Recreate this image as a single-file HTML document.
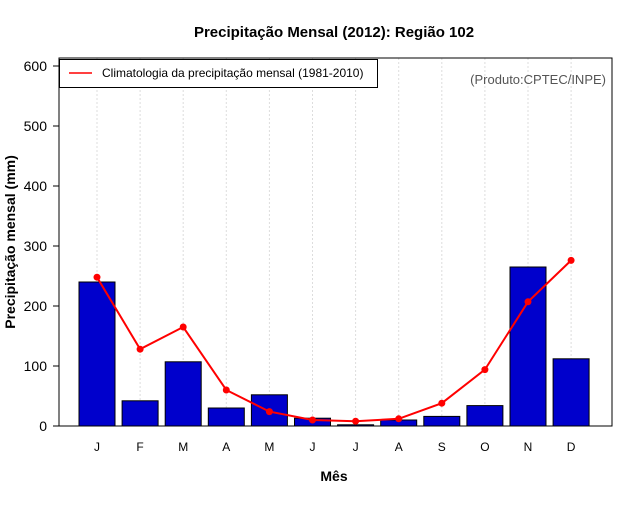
<!DOCTYPE html>
<html><head><meta charset="utf-8"><style>
body{margin:0;background:#fff;}
svg text{font-family:"Liberation Sans",sans-serif;}
</style></head><body>
<svg id="c" width="640" height="500" xmlns="http://www.w3.org/2000/svg">
<rect width="640" height="500" fill="#fff"/>
<text x="334" y="37" text-anchor="middle" font-size="15" font-weight="bold">Precipitação Mensal (2012): Região 102</text>
<text x="334" y="481" text-anchor="middle" font-size="14" font-weight="bold">Mês</text>
<text transform="translate(15,242) rotate(-90)" text-anchor="middle" font-size="14" font-weight="bold">Precipitação mensal (mm)</text>
<g id="grid"></g><g id="bars"></g><g id="line"></g><g id="axes"></g>
<rect x="59" y="58" width="553" height="368" fill="none" stroke="#000" stroke-width="1"/>
<g>
<rect x="59.5" y="59.5" width="318" height="28" fill="#fff" stroke="#000"/>
<line x1="69" y1="73" x2="92" y2="73" stroke="red" stroke-width="1.5"/>
<text x="102" y="77" font-size="12">Climatologia da precipitação mensal (1981-2010)</text>
</g>
<text x="606" y="84" text-anchor="end" font-size="13" fill="#555">(Produto:CPTEC/INPE)</text>
</svg>
<script>
const months=["J","F","M","A","M","J","J","A","S","O","N","D"];
const obs=[240,42,107,30,52,13,2,10,16,34,265,112];
const clim=[248,128,165,60,24,10,8,12,38,94,207,276];
const yTicks=[0,100,200,300,400,500,600];
const NS="http://www.w3.org/2000/svg";
const xs=i=>97+i*43.1;
const ys=v=>426-v*0.6;
function mk(t,a,p){const e=document.createElementNS(NS,t);for(const k in a)e.setAttribute(k,a[k]);p.appendChild(e);return e;}
const grid=document.getElementById('grid'),bars=document.getElementById('bars'),line=document.getElementById('line'),axes=document.getElementById('axes');
months.forEach((m,i)=>{
 const g=mk('line',{x1:xs(i),x2:xs(i),y1:58,y2:426,stroke:'#ddd','stroke-dasharray':'2,2'},grid);
 
 
 const b=mk('rect',{x:xs(i)-18,y:ys(obs[i]),width:36,height:426-ys(obs[i]),fill:'#0000cc',stroke:'#000','stroke-width':1},bars);
 
 
 const t=mk('text',{x:xs(i),y:451,'text-anchor':'middle','font-size':12},axes);
 t.textContent=m;
 
 
});
const pl=mk('polyline',{points:clim.map((v,i)=>xs(i)+','+ys(v)).join(' '),fill:'none',stroke:'red','stroke-width':2},line);


clim.forEach((v,i)=>{
 const c=mk('circle',{cx:xs(i),cy:ys(v),r:3.5,fill:'red'},line);
 
 
});
yTicks.forEach(v=>{
 const l=mk('line',{x1:53,x2:59,y1:ys(v),y2:ys(v),stroke:'#000'},axes);
 
 
 const t=mk('text',{x:47,y:ys(v)+5,'text-anchor':'end','font-size':14},axes);
 t.textContent=v;
 
 
});
</script>
</body></html>
